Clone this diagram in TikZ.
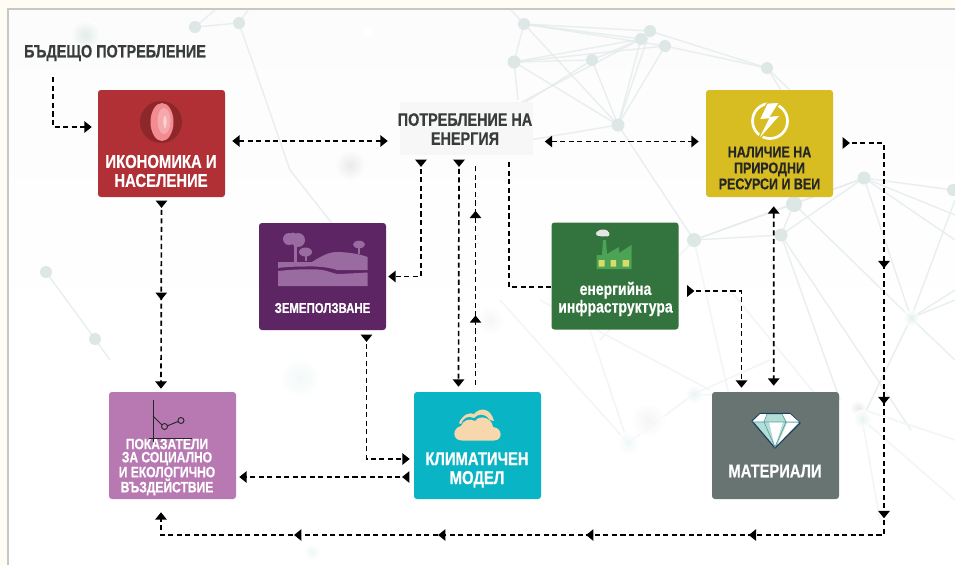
\documentclass[tikz,border=0pt]{standalone}
\usepackage{fontspec}
\setmainfont{Liberation Sans}[FakeStretch=0.8,BoldFeatures={FakeBold=0.5}]
\usetikzlibrary{arrows.meta,calc,decorations.markings}
\definecolor{econred}{HTML}{B03035}
\definecolor{landpurple}{HTML}{5D2564}
\definecolor{infragreen}{HTML}{33733D}
\definecolor{resyellow}{HTML}{D8BD22}
\definecolor{impactpink}{HTML}{B878B2}
\definecolor{climateteal}{HTML}{09B4C4}
\definecolor{matgrey}{HTML}{687472}
\definecolor{netc}{HTML}{E4ECEB}
\definecolor{netn}{HTML}{DDE8E6}
\definecolor{netf}{HTML}{F2F6F5}
\definecolor{darktext}{HTML}{383D3C}
\definecolor{landicon}{HTML}{9A6BA0}
\definecolor{stripc}{HTML}{FFFDF3}
\definecolor{peach}{HTML}{F8D7AC}
\definecolor{meatA}{HTML}{F28C92}
\definecolor{meatB}{HTML}{F6A9AC}
\definecolor{meatC}{HTML}{FBD3D3}
\definecolor{factory}{HTML}{4CA355}
\definecolor{factwin}{HTML}{D9DC66}
\definecolor{gemA}{HTML}{B3DED8}
\definecolor{gemL}{HTML}{1D3F5F}
\definecolor{gemM}{HTML}{5F9C9E}
\newcommand\fs[2]{\fontsize{#1}{#2}\selectfont\bfseries}
\tikzset{
  x=0.75pt,y=-0.75pt,
  box/.style={rectangle,rounded corners=2.2pt,minimum width=95.25pt,minimum height=80.25pt,inner sep=0pt,draw=none},
  lab/.style={align=center,inner sep=0pt,text=white},
  flow/.style={draw=black,line width=1.25pt,dash pattern=on 3.8pt off 2.6pt,>={Triangle[length=5.5pt,width=8.5pt]}},
  headat/.style={postaction={decorate,decoration={markings,mark=at position #1 with {\arrow{>}}}}},
  netl/.style={draw=netc,line width=1.1pt,opacity=.8},
  netl2/.style={draw=netf,line width=1.2pt},
}
\begin{document}
\begin{tikzpicture}
\useasboundingbox (0,0) rectangle (955,565);
% background
\fill[stripc] (0,0) rectangle (955,565);
\fill[white] (8,9) rectangle (955,565);
\shade[top color=black!1.2,bottom color=white,middle color=black!.6] (8,9) rectangle (955,340);
\draw[black!22,line width=0.8pt] (8,565) -- (8,9) -- (955,9);
% network
\foreach \a/\b/\c/\d in {524/24/650/31,524/24/641/39,524/24/665/46,524/24/514/62,524/24/618/125,514/62/641/39,514/62/592/60,514/62/665/46,514/62/618/125,592/60/618/125,592/60/641/39,641/39/618/125,665/46/618/125,650/31/618/125,650/31/767/68,665/46/767/68,767/68/781/90,618/125/694/240,592/60/450/150,641/39/450/140,514/62/518/100,618/125/470/150,767/68/800/100,864/178/953/190,864/178/794/204,864/178/781/235,864/178/694/240,794/204/911/318,781/235/840/400,794/204/694/240,864/178/911/318,864/178/955/240,864/178/955/215,781/235/694/240,781/235/911/430,794/204/781/235,955/300/911/318,955/200/911/318,911/318/862/419,911/318/955/360,911/318/955/290,511/10/524/24,195/27/239/23,239/23/290/170,290/170/345/240,195/27/215/10,239/23/248/10,46/272/95/339,95/339/110/360}
  {\draw[netl] (\a,\b) -- (\c,\d);}
\foreach \a/\b/\c/\d in {694/394/628/443,694/240/730/400,694/240/600/340,858/408/955/440,862/419/955/500,694/394/770/360,694/394/820/400,628/443/590/330,628/443/500/300,862/419/880/520,730/290/820/400,540/300/710/390}
  {\draw[netl2] (\a,\b) -- (\c,\d);}
\foreach \a/\b/\r in {524/24/6,650/31/6,641/39/6,665/46/6,592/60/6,514/62/6.5,767/68/6,618/125/6.5,864/178/6.5,953/190/6,794/204/8,781/235/6.5,694/240/7,195/27/6,239/23/6,46/272/6,95/339/6}
  {\fill[netn] (\a,\b) circle[radius=\r];}
\foreach \a/\b/\r/\k in {85/35/16/netn,350/165/16/black!10,300/378/20/teal!6,911/318/8/teal!12,694/394/9/teal!10,648/420/17/black!5,628/443/11/teal!7,858/408/8/black!10,862/419/9/teal!10,312/552/8/teal!8,490/320/14/black!4}
  {\shade[inner color=\k,outer color=white,opacity=.8] (\a,\b) circle[radius=\r];}
\fill[white] (368,32) circle[radius=5];
% boxes
\node[box,fill=econred] (econ) at (161.5,143.5) {};
\node[box,fill=landpurple] (land) at (322.5,276.5) {};
\node[box,fill=infragreen] (infra) at (615,276) {};
\node[box,fill=resyellow] (res) at (769.5,143.5) {};
\node[box,fill=impactpink] (impact) at (172.5,445.5) {};
\node[box,fill=climateteal] (climate) at (477.5,445.5) {};
\node[box,fill=matgrey] (mat) at (775.5,445.5) {};
\node[rectangle,fill=black!3,minimum width=99.75pt,minimum height=39.75pt,inner sep=0pt] (energy) at (466,128.5) {};
% labels
\node[lab,text=darktext,font=\fs{13.5}{14}] (future) at (115,53) {БЪДЕЩО ПОТРЕБЛЕНИЕ};
\node[lab,font=\fs{13.9}{14.2}] (econlab) at (161,171) {ИКОНОМИКА И\\НАСЕЛЕНИЕ};
\node[lab,text=darktext,font=\fs{13.5}{14.2}] (energylab) at (465,129) {ПОТРЕБЛЕНИЕ НА\\ЕНЕРГИЯ};
\node[lab,text=black!85,font=\fs{11.7}{12}] (reslab) at (769.5,168) {НАЛИЧИЕ НА\\ПРИРОДНИ\\РЕСУРСИ И ВЕИ};
\node[lab,font=\fs{10.7}{12}] (landlab) at (322.5,308) {ЗЕМЕПОЛЗВАНЕ};
\node[lab,font=\fs{13.1}{11.3}] (infralab) at (615.5,299) {енергийна\\инфраструктура};
\node[lab,font=\fs{11.3}{9.9}] (impactlab) at (167,467) {ПОКАЗАТЕЛИ\\ЗА СОЦИАЛНО\\И ЕКОЛОГИЧНО\\ВЪЗДЕЙСТВИЕ};
\node[lab,font=\fs{13.9}{14.2}] (climatelab) at (477,470) {КЛИМАТИЧЕН\\МОДЕЛ};
\node[lab,font=\fs{13.8}{14}] (matlab) at (775,471) {МАТЕРИАЛИ};
% icon: economy
\fill[econred!80!black] (161,122) circle[radius=21];
\fill[meatA] (162,122) ellipse[x radius=11.5,y radius=19];
\fill[meatB] (164,121) ellipse[x radius=6.5,y radius=13];
\fill[meatC] (165,122) ellipse[x radius=1.6,y radius=6.5];
% icon: land
\fill[landicon] (289,239) circle[radius=6] (298,240) circle[radius=7] (293,237) circle[radius=4.5];
\fill[landicon] (293.5,244) rectangle (296.5,262);
\fill[landicon] (305.5,252) ellipse[x radius=6.5,y radius=4.5];
\fill[landicon] (304.5,252) rectangle (306.5,261);
\fill[landicon] (359,244.5) ellipse[x radius=6,y radius=3.8];
\fill[landicon] (358,244) rectangle (360,254);
\fill[landicon] (278,262) -- (312,262) .. controls (320,257) and (328,252) .. (337,252) .. controls (347,252) and (360,254) .. (367.5,257) -- (367.5,270) -- (337,270) .. controls (328,267) and (315,266) .. (305,266.5) .. controls (295,266.5) and (285,267) .. (278,268) -- cycle;
\fill[landicon] (278,271) .. controls (292,269.5) and (305,269) .. (318,269.5) .. controls (328,270) and (332,274) .. (340,274) -- (367.5,272.5) -- (367.5,286) -- (278,286) -- cycle;
% icon: infrastructure
\fill[white!90!black] (603,233) ellipse[x radius=6,y radius=3.5] (598.5,233.5) circle[radius=2.5] (607,234) circle[radius=2.5];
\fill[factory] (596.5,269) -- (596.5,255) -- (602,255) -- (603,240) -- (606,240) -- (607,254) -- (619,247) -- (619,253) -- (631.5,245) -- (631.5,269) -- cycle;
\fill[factwin] (598.5,260) rectangle (604.5,266.5) (610.5,260) rectangle (616,266.5) (622.5,260) rectangle (629,266.5);
% icon: resources
\draw[white,line width=2pt] (770,121) circle[radius=17.5];
\fill[white,draw=resyellow,line width=1pt] (780,102) -- (767,103) -- (759,120) -- (768,119) -- (756,143) -- (781,115) -- (771,116) -- cycle;
% icon: chart
\draw[black!85,line width=.7pt] (153,400) -- (153,442) (149,438) -- (192,438);
\draw[black!85,line width=.7pt] (153,416) -- (162,425) (167,426) -- (178,421.5);
\draw[black!85,line width=.7pt] (164.5,426.5) circle[radius=3] (181,420.5) circle[radius=3];
% icon: cloud
\fill[peach] (459,423) .. controls (463,414) and (470,412) .. (474,414) .. controls (481,406) and (491,409) .. (494,421) -- (490,420) .. controls (484,412) and (478,414) .. (474,418) .. controls (468,415) and (463,418) .. (461,424) -- cycle;
\fill[peach] (462,440.5) .. controls (452,440.5) and (452,428) .. (461,426) .. controls (463,420) and (470,418) .. (475,421) .. controls (480,414) and (492,418) .. (493,427) .. controls (503,428) and (503,440.5) .. (494,440.5) -- cycle;
% icon: diamond
\fill[gemA,draw=gemL,line width=.9pt,line join=round] (752,421) -- (760,413.5) -- (790,413.5) -- (800,423) -- (775,448) -- cycle;
\fill[white] (760,414) -- (767,414) -- (764,421.5) -- (752.5,421.5) -- cycle (782,414) -- (790,414) -- (799,422) -- (787,422) -- cycle;
\fill[white] (769,422) -- (783,422) -- (775,447) -- cycle;
\fill[white] (787,423) -- (798,423) -- (778,444) -- cycle;
\draw[gemM,line width=.5pt] (753,422) -- (799,422) (767,414) -- (764,422) -- (775,447) -- (786,422) -- (782,414);
% connectors
\draw[flow,->] ($(future.south)+(-62,16)$) |- ($(econ.west)+(-6,-16.5)$);
\draw[flow,<->] ($(econ.east)+(7,-2.5)$) -- ($(energy.west)+(-11.5,12.5)$);
\draw[flow,<->] ($(energy.east)+(12,13)$) -- ($(res.west)+(-7,-2)$);
\draw[flow,->,headat=5pt,headat=74pt] ($(econ.south)+(0,4)$) -- ($(impact.north)+(-11.5,-3)$);
\draw[flow,->,headat=5pt] ($(energy.south)+(-45,5)$) |- ($(land.east)+(2,0)$);
\draw[flow,->,headat=5pt] ($(energy.south)+(-7,5)$) -- ($(climate.north)+(-19,-5)$);
\draw[flow,headat=52pt,headat=130.5pt] ($(climate.north)+(-2,-7)$) -- ($(energy.south)+(9.5,8)$);
\draw[flow] ($(energy.south)+(43,7)$) |- ($(infra.west)+(0,11)$);
\draw[flow,->,headat=5pt] ($(infra.east)+(9,15)$) -| ($(mat.north)+(-34,-4)$);
\draw[flow,<->] ($(res.south)+(4.2,9)$) -- ($(mat.north)+(-1.8,-6)$);
\draw[flow,->,headat=5pt] ($(land.south)+(44,5)$) |- ($(climate.west)+(-4,13.5)$);
\draw[flow,->,headat=5pt] ($(climate.west)+(-5,31.5)$) -- ($(impact.east)+(3,31.5)$);
\coordinate (loopTR) at (884,143);
\coordinate (loopBR) at (884,535);
\coordinate (loopBL) at (161,535);
\draw[flow,->,headat=5pt,headat=124.5pt,headat=226.5pt,headat=312pt,headat=426pt,headat=548pt,headat=659pt,headat=767pt]
  ($(res.east)+(10,-.5)$) -- (loopTR) -- (loopBR) -- (loopBL) -- ($(impact.south)+(-11.5,13)$);
\end{tikzpicture}
\end{document}
